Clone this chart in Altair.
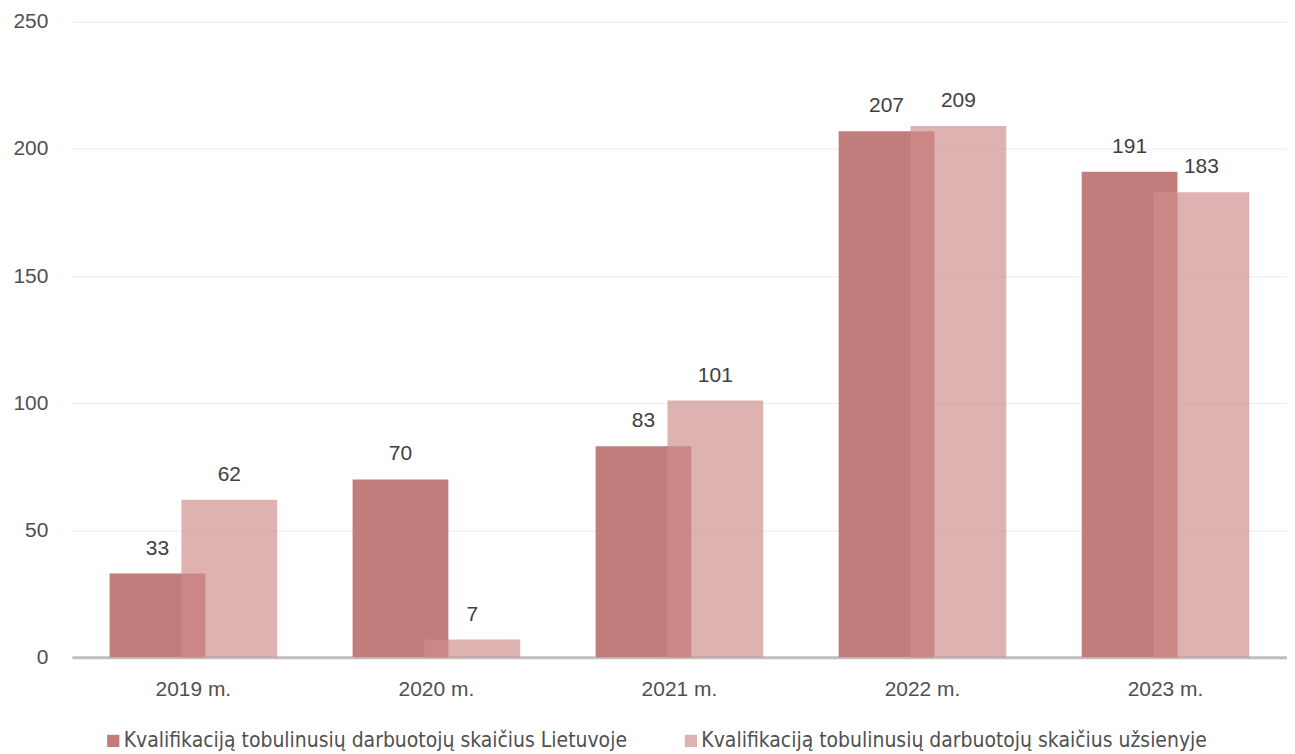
import altair as alt
import pandas as pd

years = ["2019 m.", "2020 m.", "2021 m.", "2022 m.", "2023 m."]
lietuvoje = [33, 70, 83, 207, 191]
uzsienyje = [62, 7, 101, 209, 183]
series = ["Kvalifikaciją tobulinusių darbuotojų skaičius Lietuvoje",
          "Kvalifikaciją tobulinusių darbuotojų skaičius užsienyje"]
colors = ["#C17D7B", "rgba(208,140,140,0.67)"]

df = pd.DataFrame({
    "year": years * 2,
    "value": lietuvoje + uzsienyje,
    "series": [series[0]] * 5 + [series[1]] * 5,
})

x = alt.X("year:N", sort=years, title=None,
          scale=alt.Scale(paddingInner=0, paddingOuter=0),
          axis=alt.Axis(labelAngle=0, labelFontSize=21, labelColor="#505050",
                        labelFont="Liberation Sans", ticks=False, labelPadding=21,
                        domainColor="#BFBFBF", domainWidth=3, grid=False))
y = alt.Y("value:Q", title=None,
          scale=alt.Scale(domain=[0, 250]),
          axis=alt.Axis(values=[0, 50, 100, 150, 200, 250], labelFontSize=21,
                        labelColor="#505050", labelFont="Liberation Sans",
                        ticks=False, domain=False,
                        gridColor="#EBEBEB", labelPadding=24))
color = alt.Color("series:N", scale=alt.Scale(domain=series, range=colors),
                  title=None,
                  legend=alt.Legend(orient="none", legendX=31, legendY=710,
                                    direction="horizontal", symbolType="square",
                                    symbolSize=150, labelFontSize=21,
                                    labelFont="Liberation Sans Narrow, DejaVu Sans Condensed",
                                    labelColor="#505050", columnPadding=53,
                                    labelOffset=0,
                                    symbolStrokeWidth=0, labelLimit=700))

base = alt.Chart(df)
off = 36
dark = base.transform_filter(alt.datum.series == series[0]).mark_bar(width=96, xOffset=-off).encode(x=x, y=y, color=color)
light = base.transform_filter(alt.datum.series == series[1]).mark_bar(width=96, xOffset=off).encode(x=x, y=y, color=color)
tdark = base.transform_filter(alt.datum.series == series[0]).mark_text(
    xOffset=-off, dy=-19, baseline="alphabetic", fontSize=21, color="#404040",
    font="Liberation Sans").encode(x=x, y=y, text="value:Q")
tlight = base.transform_filter(alt.datum.series == series[1]).mark_text(
    xOffset=off, dy=-19, baseline="alphabetic", fontSize=21, color="#404040",
    font="Liberation Sans").encode(x=x, y=y, text="value:Q")

chart = alt.layer(dark, light, tdark, tlight).properties(
    width=1218, height=637,
    background="white",
    autosize=alt.AutoSizeParams(type="none"),
    padding={"left": 64, "top": 13, "right": 0, "bottom": 95},
).configure_view(stroke="transparent", strokeWidth=0)

chart.save("out.html", embed_options={"renderer": "svg", "actions": False})
